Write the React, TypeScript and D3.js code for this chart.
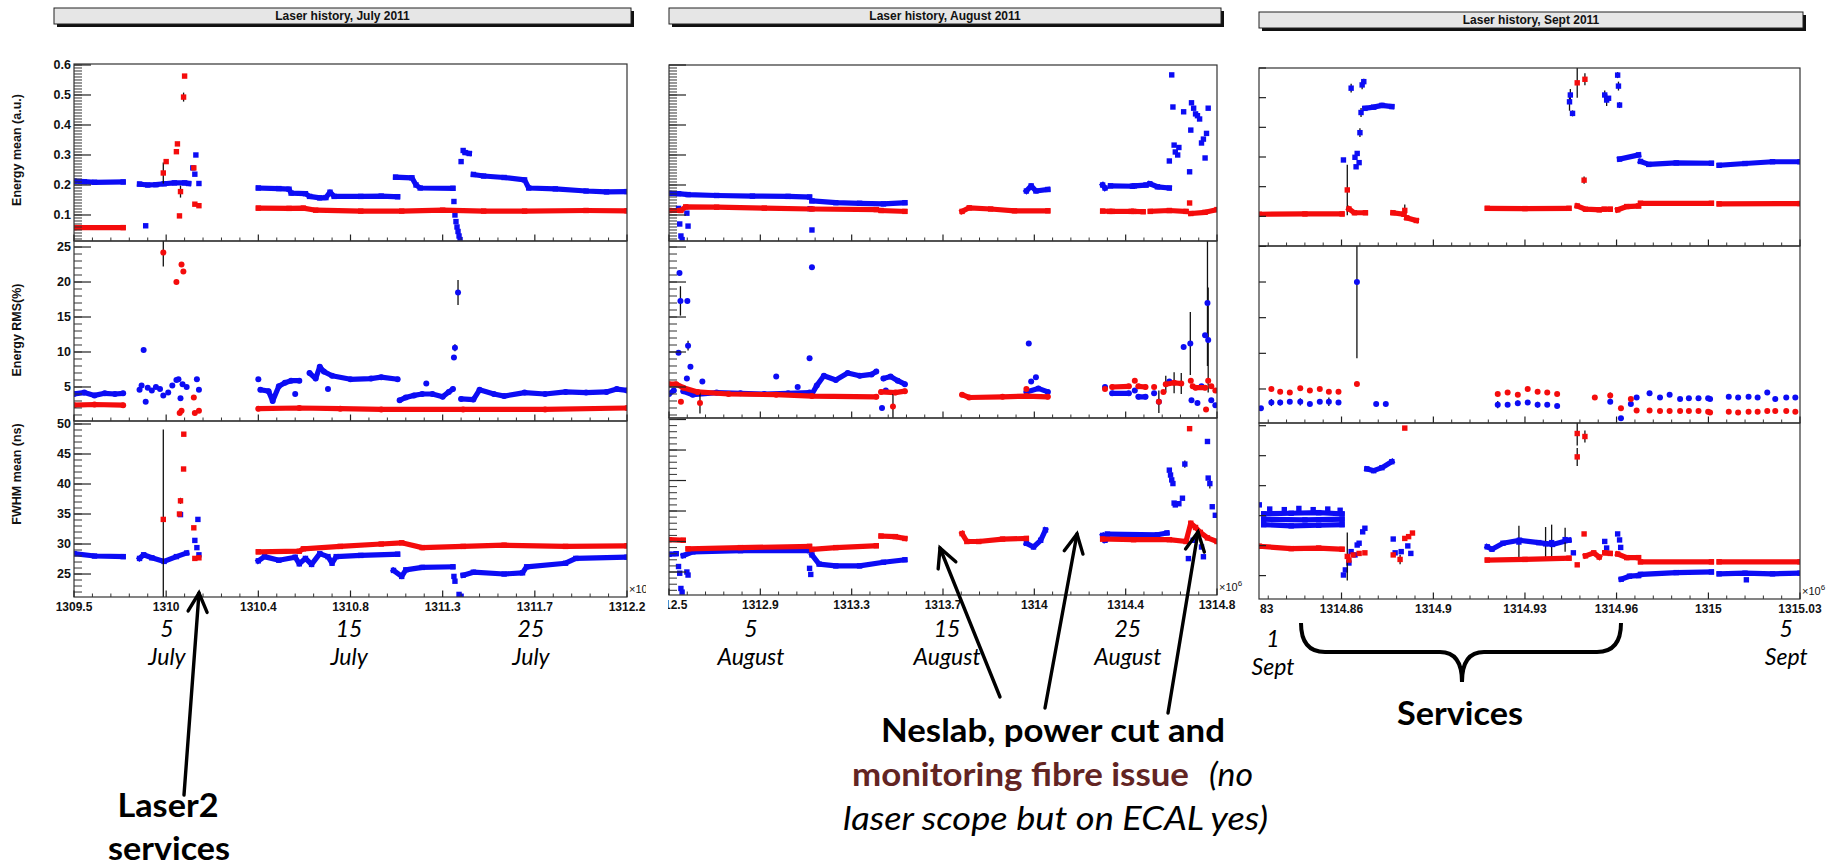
import React from 'react';
import * as d3 from 'd3';

// point: [time (x10^6 s), value, error up?, error down?]
type Pt = [number, number, number?, number?];
type Run = Pt[];

const W = 1841;
const H = 867;

// ---------- x axes ----------
const julyXTicks = [1309.5, 1309.95, 1310.4, 1310.85, 1311.3, 1311.75, 1312.2];
const julyXLabels = ['1309.5', '1310', '1310.4', '1310.8', '1311.3', '1311.7', '1312.2'];
const augXTicks = [1312.5, 1312.8833, 1313.2667, 1313.65, 1314.0333, 1314.4167, 1314.8];
const augXLabels = ['1312.5', '1312.9', '1313.3', '1313.7', '1314', '1314.4', '1314.8'];
const septXTicks = [1314.83, 1314.8633, 1314.8967, 1314.93, 1314.9633, 1314.9967, 1315.03];
const septXLabels = ['1314.83', '1314.86', '1314.9', '1314.93', '1314.96', '1315', '1315.03'];

// ---------- y axes ----------
const energyMajor = [0.1, 0.2, 0.3, 0.4, 0.5, 0.6];
const energyLabels = ['0.1', '0.2', '0.3', '0.4', '0.5', '0.6'];
const rmsMajor = [5, 10, 15, 20, 25];
const rmsLabels = ['5', '10', '15', '20', '25'];
const fwhmMajor = [25, 30, 35, 40, 45, 50];
const fwhmLabels = ['25', '30', '35', '40', '45', '50'];
const yTitles = ['Energy mean (a.u.)', 'Energy RMS(%)', 'FWHM mean (ns)'];

// ---------- date labels ----------
const julyDates = [
  { t: 1309.954, day: '5', month: 'July' },
  { t: 1310.843, day: '15', month: 'July' },
  { t: 1311.731, day: '25', month: 'July' },
];
const augDates = [
  { t: 1312.844, day: '5', month: 'August' },
  { t: 1313.667, day: '15', month: 'August' },
  { t: 1314.426, day: '25', month: 'August' },
];
const septDates = [
  { t: 1314.8384, day: '1', month: 'Sept' },
  { t: 1315.025, day: '5', month: 'Sept' },
];

// ---------- July data ----------
const julyEnergyBlue: Run[] = [
  [[1309.5, 0.213], [1309.55, 0.211], [1309.6, 0.209], [1309.74, 0.21]],
  [[1309.85, 0.064]],
  [[1309.82, 0.203], [1309.86, 0.2], [1309.9, 0.201], [1309.94, 0.204], [1309.99, 0.207], [1310.04, 0.207], [1310.06, 0.205]],
  [[1310.08, 0.257]], [[1310.09, 0.236]], [[1310.095, 0.3]], [[1310.11, 0.205]],
  [[1310.4, 0.19], [1310.5, 0.188], [1310.55, 0.186], [1310.56, 0.173], [1310.63, 0.171], [1310.65, 0.162], [1310.7, 0.157], [1310.73, 0.158], [1310.75, 0.176], [1310.77, 0.162], [1310.9, 0.162], [1311.0, 0.163], [1311.08, 0.161]],
  [[1311.07, 0.226], [1311.15, 0.224], [1311.17, 0.2], [1311.19, 0.19], [1311.35, 0.189]],
  [[1311.355, 0.145]], [[1311.36, 0.1]], [[1311.365, 0.078]], [[1311.37, 0.06]], [[1311.375, 0.045]], [[1311.38, 0.03]], [[1311.385, 0.018]],
  [[1311.39, 0.278]], [[1311.4, 0.315]], [[1311.41, 0.308], [1311.43, 0.305]],
  [[1311.45, 0.235], [1311.5, 0.23], [1311.6, 0.225], [1311.7, 0.217], [1311.72, 0.19], [1311.85, 0.187], [1312.0, 0.18], [1312.1, 0.177], [1312.2, 0.178]],
];
const julyEnergyRed: Run[] = [
  [[1309.5, 0.058], [1309.74, 0.058]],
  [[1309.936, 0.24, 0.035]], [[1309.95, 0.278]], [[1310.0, 0.311]], [[1310.005, 0.337]], [[1310.015, 0.097]], [[1310.02, 0.178, 0.02]],
  [[1310.035, 0.493, 0.015]], [[1310.04, 0.563]], [[1310.085, 0.257]], [[1310.09, 0.136]], [[1310.11, 0.131]],
  [[1310.4, 0.123], [1310.55, 0.122], [1310.62, 0.123], [1310.68, 0.116], [1310.9, 0.113], [1311.1, 0.113], [1311.3, 0.116], [1311.5, 0.113], [1311.7, 0.113], [1312.0, 0.115], [1312.2, 0.114]],
];
const julyRmsBlue: Run[] = [
  [[1309.5, 4.0], [1309.55, 4.2], [1309.6, 3.8], [1309.65, 4.1], [1309.7, 4.0], [1309.74, 4.1]],
  [[1309.82, 4.6]], [[1309.83, 5.2]], [[1309.84, 10.3]], [[1309.85, 2.9]], [[1309.86, 4.9]], [[1309.88, 4.5]], [[1309.9, 5.0]], [[1309.92, 4.7]],
  [[1309.936, 3.8]], [[1309.96, 4.2]], [[1309.98, 5.2]], [[1310.0, 6.0]], [[1310.01, 6.1]], [[1310.02, 3.4]], [[1310.03, 5.4]], [[1310.05, 5.0]], [[1310.1, 6.1]], [[1310.11, 4.6]],
  [[1310.4, 6.1]],
  [[1310.41, 4.6], [1310.45, 4.4], [1310.47, 3.0], [1310.5, 5.1], [1310.53, 5.6], [1310.56, 5.9], [1310.6, 5.9]],
  [[1310.58, 4.0]],
  [[1310.65, 7.0], [1310.68, 6.2], [1310.7, 7.9], [1310.72, 7.2], [1310.76, 6.6], [1310.85, 6.1], [1310.95, 6.2], [1311.0, 6.4], [1311.08, 6.1]],
  [[1310.74, 4.7]],
  [[1311.09, 3.1], [1311.12, 3.5], [1311.16, 3.8], [1311.2, 4.0], [1311.25, 4.0], [1311.3, 3.6], [1311.33, 4.3], [1311.35, 4.7]],
  [[1311.22, 5.5]],
  [[1311.355, 9.2]], [[1311.36, 10.6, 0.5]], [[1311.375, 18.5, 1.8]],
  [[1311.39, 3.3], [1311.45, 3.2], [1311.48, 4.6], [1311.55, 4.0], [1311.6, 3.7], [1311.7, 4.2], [1311.8, 4.0], [1311.9, 4.3], [1312.0, 4.2], [1312.1, 4.3], [1312.15, 4.7], [1312.2, 4.5]],
];
const julyRmsRed: Run[] = [
  [[1309.5, 2.4], [1309.6, 2.5], [1309.74, 2.4]],
  [[1309.936, 24.2, 2.0]], [[1310.0, 20.0]], [[1310.025, 22.5]], [[1310.034, 21.5]], [[1310.016, 1.3]], [[1310.025, 1.6]],
  [[1310.085, 3.5]], [[1310.09, 1.3]], [[1310.11, 1.6]],
  [[1310.4, 1.9], [1310.6, 2.0], [1310.8, 1.9], [1311.0, 1.8], [1311.4, 1.8], [1311.8, 1.8], [1312.2, 2.0]],
];
const julyFwhmBlue: Run[] = [
  [[1309.5, 28.4], [1309.6, 28.0], [1309.74, 27.9]],
  [[1309.82, 27.6], [1309.84, 28.2], [1309.88, 27.7], [1309.94, 27.1], [1310.0, 27.9], [1310.05, 28.5]],
  [[1310.02, 34.9]], [[1310.09, 30.6]], [[1310.1, 29.4]], [[1310.105, 34.1]], [[1310.11, 28.2]],
  [[1310.4, 27.2], [1310.43, 27.9], [1310.5, 27.3], [1310.58, 27.8], [1310.6, 26.7], [1310.63, 27.6], [1310.66, 26.6], [1310.7, 28.4], [1310.74, 27.9], [1310.76, 26.8], [1310.78, 27.9], [1310.9, 28.1], [1311.08, 28.3]],
  [[1311.06, 25.6], [1311.1, 24.6], [1311.12, 25.7], [1311.2, 26.1], [1311.35, 26.2]],
  [[1311.355, 24.6]], [[1311.36, 23.8]], [[1311.38, 21.6]], [[1311.39, 21.3]],
  [[1311.4, 24.8], [1311.45, 25.3], [1311.6, 25.0], [1311.69, 25.2], [1311.71, 26.2], [1311.9, 26.8], [1311.95, 27.6], [1312.2, 27.8]],
];
const julyFwhmRed: Run[] = [
  [[1309.936, 34.1, 15]], [[1310.015, 35.0]], [[1310.02, 37.2, 0.5]], [[1310.035, 42.5]], [[1310.036, 48.3]],
  [[1310.085, 32.7]], [[1310.09, 27.6]], [[1310.11, 27.7]],
  [[1310.4, 28.7], [1310.6, 28.8], [1310.62, 29.2], [1310.8, 29.6], [1311.0, 30.0], [1311.1, 30.2], [1311.2, 29.4], [1311.4, 29.6], [1311.6, 29.8], [1311.9, 29.6], [1312.2, 29.7]],
];

// ---------- August data ----------
const augEnergyBlue: Run[] = [
  [[1312.5, 0.172], [1312.54, 0.171], [1312.58, 0.168], [1312.7, 0.165], [1312.85, 0.163], [1313.0, 0.162], [1313.09, 0.16]],
  [[1312.54, 0.122]], [[1312.545, 0.07]], [[1312.55, 0.03]], [[1312.555, 0.018]], [[1312.575, 0.106]], [[1312.58, 0.063]],
  [[1313.092, 0.121]], [[1313.1, 0.05]],
  [[1313.1, 0.147], [1313.2, 0.141], [1313.3, 0.139], [1313.4, 0.137], [1313.49, 0.141]],
  [[1314.0, 0.18], [1314.02, 0.197], [1314.04, 0.18], [1314.09, 0.185]],
  [[1314.32, 0.2], [1314.33, 0.19]], [[1314.353, 0.197], [1314.445, 0.196]], [[1314.453, 0.197], [1314.502, 0.2]], [[1314.518, 0.204], [1314.55, 0.194], [1314.6, 0.19]],
  [[1314.6, 0.28]], [[1314.61, 0.567]], [[1314.615, 0.46]], [[1314.62, 0.333]], [[1314.625, 0.31]], [[1314.635, 0.3]], [[1314.64, 0.325]],
  [[1314.66, 0.444]], [[1314.685, 0.244]], [[1314.69, 0.383]], [[1314.693, 0.474]], [[1314.702, 0.456]], [[1314.71, 0.437]], [[1314.718, 0.431]],
  [[1314.727, 0.42]], [[1314.735, 0.34]], [[1314.743, 0.353]], [[1314.75, 0.29]], [[1314.756, 0.372]], [[1314.763, 0.456]],
];
const augEnergyRed: Run[] = [
  [[1312.5, 0.115], [1312.55, 0.115], [1312.57, 0.127], [1312.7, 0.126], [1312.9, 0.123], [1313.1, 0.12], [1313.37, 0.118]],
  [[1313.39, 0.115], [1313.49, 0.112]],
  [[1313.73, 0.112], [1313.76, 0.124], [1313.85, 0.12], [1313.95, 0.114], [1314.09, 0.114]],
  [[1314.32, 0.113], [1314.35, 0.112]], [[1314.36, 0.112], [1314.44, 0.112]], [[1314.45, 0.112], [1314.49, 0.111]], [[1314.52, 0.112], [1314.6, 0.115], [1314.67, 0.112]],
  [[1314.685, 0.14]],
  [[1314.69, 0.105], [1314.75, 0.109], [1314.8, 0.118]],
];
const augRmsBlue: Run[] = [
  [[1312.5, 4.0], [1312.52, 4.5]],
  [[1312.54, 9.9]], [[1312.544, 21.3]], [[1312.548, 17.3, 2.1]], [[1312.577, 17.3]], [[1312.58, 10.9, 0.7]], [[1312.59, 7.9]], [[1312.575, 6.2]],
  [[1312.56, 4.4], [1312.6, 3.9], [1312.7, 4.2], [1312.8, 4.1], [1312.9, 4.0], [1313.0, 4.1], [1313.09, 4.2]],
  [[1312.64, 5.8]], [[1312.95, 6.5]], [[1313.04, 5.0]],
  [[1313.09, 9.1]], [[1313.1, 22.1]],
  [[1313.1, 4.0], [1313.12, 5.2], [1313.15, 6.6], [1313.2, 6.0], [1313.25, 7.0], [1313.3, 6.6], [1313.35, 6.8], [1313.37, 7.2]],
  [[1313.394, 2.0]],
  [[1313.4, 6.2], [1313.43, 6.5], [1313.46, 5.9], [1313.49, 5.4]],
  [[1313.41, 4.5]],
  [[1314.01, 11.2]], [[1314.02, 5.8]], [[1314.04, 6.4]],
  [[1314.0, 4.3], [1314.05, 4.8], [1314.09, 4.3]],
  [[1314.33, 5.0]], [[1314.36, 4.1], [1314.43, 4.1]], [[1314.455, 4.5]], [[1314.47, 3.6], [1314.5, 3.6]], [[1314.536, 4.1]],
  [[1314.556, 2.9]], [[1314.6, 5.8]],
  [[1314.66, 10.7]], [[1314.688, 11.2, 4.5]], [[1314.693, 3.1]], [[1314.718, 2.7]], [[1314.735, 5.1]], [[1314.75, 12.4]],
  [[1314.76, 17.0, 9]], [[1314.763, 11.7, 7.5]], [[1314.776, 3.1]], [[1314.793, 2.4]],
];
const augRmsRed: Run[] = [
  [[1312.5, 5.4], [1312.53, 5.4], [1312.56, 4.9], [1312.62, 4.3], [1312.75, 4.0], [1312.95, 3.9], [1313.1, 3.7], [1313.37, 3.6]],
  [[1312.55, 2.9]], [[1312.63, 2.7, 1.5]],
  [[1313.39, 4.3], [1313.45, 4.2], [1313.49, 4.4]],
  [[1313.44, 2.2, 1.8]],
  [[1313.73, 3.9], [1313.76, 3.5], [1313.9, 3.6], [1314.0, 3.7], [1314.09, 3.6]],
  [[1314.0, 4.7]],
  [[1314.33, 4.7]], [[1314.36, 5.0], [1314.43, 5.1]], [[1314.455, 5.9]], [[1314.47, 5.1], [1314.5, 5.0]], [[1314.536, 5.0]],
  [[1314.556, 2.9, 1.6]], [[1314.575, 4.3]], [[1314.585, 5.4, 1.2], [1314.62, 5.6, 1.5], [1314.65, 5.5, 1.5]],
  [[1314.69, 5.9]], [[1314.698, 5.1]], [[1314.71, 4.9], [1314.75, 4.9]], [[1314.754, 1.8]], [[1314.763, 5.9]], [[1314.776, 5.1]], [[1314.793, 4.5]],
];
const augFwhmBlue: Run[] = [
  [[1312.5, 27.9], [1312.53, 28.0]],
  [[1312.54, 25.9]], [[1312.545, 24.8]], [[1312.55, 22.3]], [[1312.555, 21.7]], [[1312.575, 25.0]], [[1312.58, 24.5]],
  [[1312.56, 27.7], [1312.6, 28.3], [1312.8, 28.5], [1313.09, 28.5]],
  [[1313.09, 25.6]], [[1313.095, 24.6]],
  [[1313.1, 27.8], [1313.13, 26.3], [1313.2, 26.0], [1313.3, 26.0], [1313.4, 26.6], [1313.49, 27.0]],
  [[1314.0, 29.7], [1314.03, 29.1], [1314.06, 30.2], [1314.08, 31.9]],
  [[1314.32, 31.0], [1314.33, 30.2]], [[1314.34, 31.2], [1314.55, 31.1], [1314.59, 31.4]],
  [[1314.6, 41.7]], [[1314.605, 40.9]], [[1314.61, 40.1]], [[1314.615, 39.5]], [[1314.62, 36.3]], [[1314.625, 36.0]], [[1314.64, 36.2]],
  [[1314.655, 37.1]], [[1314.665, 42.7, 0.6]], [[1314.68, 27.2]], [[1314.7, 30.2]], [[1314.735, 29.1]], [[1314.743, 27.5]],
  [[1314.76, 46.4]], [[1314.763, 40.4]], [[1314.77, 39.5, 0.8]], [[1314.78, 35.7]], [[1314.793, 34.3]],
];
const augFwhmRed: Run[] = [
  [[1312.5, 30.3], [1312.56, 30.2]],
  [[1312.58, 28.8], [1312.8, 29.0], [1313.09, 29.2]],
  [[1313.1, 28.7], [1313.2, 29.0], [1313.37, 29.3]],
  [[1313.39, 30.9], [1313.45, 30.8], [1313.49, 30.5]],
  [[1313.73, 31.3], [1313.75, 30.0], [1313.8, 30.0], [1313.9, 30.4], [1314.0, 30.5]],
  [[1314.32, 30.4], [1314.45, 30.3], [1314.6, 30.3], [1314.67, 30.0], [1314.69, 33.0], [1314.71, 32.3], [1314.73, 31.5], [1314.76, 30.6], [1314.8, 30.0]],
  [[1314.685, 48.5]],
];

// ---------- September data ----------
const septEnergyBlue: Run[] = [
  [[1314.864, 0.29]], [[1314.8668, 0.532, 0.015]], [[1314.8682, 0.299]], [[1314.8686, 0.267]], [[1314.869, 0.312]], [[1314.8697, 0.281]],
  [[1314.87, 0.382, 0.015]], [[1314.8704, 0.45, 0.015]], [[1314.8708, 0.543, 0.015]], [[1314.8714, 0.554, 0.01]],
  [[1314.8718, 0.464], [1314.875, 0.468], [1314.878, 0.474], [1314.8816, 0.47]],
  [[1314.9462, 0.486, 0.03]], [[1314.9465, 0.509, 0.02]], [[1314.9473, 0.447, 0.01]], [[1314.959, 0.509, 0.015]], [[1314.9597, 0.492, 0.02]],
  [[1314.9604, 0.498]], [[1314.9637, 0.576, 0.01]], [[1314.964, 0.539, 0.015]], [[1314.9644, 0.475, 0.01]],
  [[1314.9644, 0.293], [1314.9713, 0.307]],
  [[1314.972, 0.285], [1314.975, 0.275], [1314.985, 0.28], [1314.9978, 0.279]],
  [[1315.0006, 0.272], [1315.01, 0.278], [1315.02, 0.284], [1315.03, 0.284]],
];
const septEnergyRed: Run[] = [
  [[1314.8334, 0.107], [1314.85, 0.108], [1314.8635, 0.108]],
  [[1314.8654, 0.189, 0.085]],
  [[1314.866, 0.125], [1314.868, 0.112], [1314.872, 0.112]],
  [[1314.882, 0.112], [1314.886, 0.107]],
  [[1314.8863, 0.12, 0.02]],
  [[1314.887, 0.095], [1314.8905, 0.086]],
  [[1314.9163, 0.127], [1314.93, 0.126], [1314.946, 0.127]],
  [[1314.949, 0.55, 0.05]], [[1314.9518, 0.562, 0.02]], [[1314.9515, 0.222, 0.012]],
  [[1314.949, 0.135], [1314.952, 0.124], [1314.957, 0.122]],
  [[1314.9588, 0.124], [1314.961, 0.124]],
  [[1314.9637, 0.122], [1314.967, 0.133], [1314.9713, 0.135]],
  [[1314.972, 0.144], [1314.9978, 0.144]],
  [[1315.0006, 0.142], [1315.03, 0.143]],
];
const septRmsBlue: Run[] = [
  [[1314.834, 2.3]], [[1314.8378, 3.1, 0.5]], [[1314.841, 3.1, 0.4]], [[1314.8445, 3.2, 0.3]], [[1314.8483, 3.2, 0.5]], [[1314.8518, 2.9, 0.3]],
  [[1314.8554, 3.2, 0.3]], [[1314.8587, 3.2, 0.6]], [[1314.8622, 3.1, 0.3]], [[1314.8689, 20.0, 6, 10.7]], [[1314.8759, 2.9]], [[1314.8794, 2.9]],
  [[1314.9201, 2.8, 0.5]], [[1314.9237, 2.8, 0.3]], [[1314.9274, 3.0, 0.4]], [[1314.931, 3.1]], [[1314.9346, 2.8, 0.4]], [[1314.9381, 2.8, 0.3]],
  [[1314.9417, 2.6, 0.3]], [[1314.961, 3.2, 0.3]], [[1314.9649, 0.9]], [[1314.9685, 2.9, 0.3]], [[1314.9706, 3.8]], [[1314.9753, 4.4]],
  [[1314.9791, 3.8]], [[1314.9826, 4.2]], [[1314.9864, 3.6]], [[1314.9896, 3.7]], [[1314.9931, 3.7]], [[1314.9966, 3.7]], [[1314.9973, 3.6]],
  [[1315.0041, 3.9]], [[1315.0075, 3.8]], [[1315.0113, 3.9]], [[1315.0146, 3.8]], [[1315.0181, 4.5]], [[1315.021, 3.6]], [[1315.025, 3.8]], [[1315.0283, 3.8]],
];
const septRmsRed: Run[] = [
  [[1314.8378, 5.0]], [[1314.841, 4.6]], [[1314.8445, 4.5]], [[1314.8483, 5.1]], [[1314.8518, 4.8]], [[1314.8554, 5.0]], [[1314.8587, 4.6]],
  [[1314.8622, 4.6]], [[1314.8689, 5.7]], [[1314.9201, 4.3]], [[1314.9237, 4.5]], [[1314.9274, 4.2]], [[1314.931, 5.0]], [[1314.9346, 4.6]],
  [[1314.9381, 4.5]], [[1314.9417, 4.3]], [[1314.9554, 3.8]], [[1314.961, 4.1, 0.4]], [[1314.9649, 2.3]], [[1314.9685, 3.6]], [[1314.9706, 2.0]],
  [[1314.9753, 2.0]], [[1314.9791, 1.9]], [[1314.9826, 1.9]], [[1314.9864, 1.9]], [[1314.9896, 1.9]], [[1314.9931, 1.9]], [[1314.9966, 1.8]],
  [[1314.9973, 1.7]], [[1315.0041, 1.8]], [[1315.0075, 1.7]], [[1315.0113, 1.8]], [[1315.0146, 1.8]], [[1315.0181, 1.9]], [[1315.021, 1.9]],
  [[1315.025, 1.9]], [[1315.0283, 1.8]],
];
const septFwhmBlue: Run[] = [
  [[1314.8334, 36.8]], [[1314.8372, 36.1]], [[1314.8425, 36.0]], [[1314.8478, 36.2]], [[1314.853, 36.0]], [[1314.8583, 36.1]], [[1314.8628, 35.9]],
  [[1314.835, 35.3], [1314.845, 35.4], [1314.855, 35.5], [1314.8635, 35.3]],
  [[1314.835, 34.4], [1314.85, 34.3], [1314.8635, 34.4]],
  [[1314.835, 33.5], [1314.845, 33.3], [1314.855, 33.4], [1314.8635, 33.5]],
  [[1314.864, 25.1]], [[1314.8647, 25.95]], [[1314.866, 27.1]], [[1314.8668, 29.0]], [[1314.8682, 28.45]], [[1314.869, 30.1]], [[1314.8697, 30.4]],
  [[1314.871, 32.3]], [[1314.8718, 32.9]],
  [[1314.8725, 42.8], [1314.875, 42.5], [1314.878, 43.0], [1314.8816, 44.0]],
  [[1314.8821, 31.1]], [[1314.8828, 28.8]], [[1314.885, 29.0]], [[1314.8874, 29.95]], [[1314.8885, 28.7]],
  [[1314.9163, 29.8], [1314.918, 29.4], [1314.922, 30.4], [1314.928, 30.9], [1314.935, 30.5], [1314.94, 30.2], [1314.946, 30.9]],
  [[1314.9278, 30.6, 2.7]], [[1314.9375, 30.3, 2.8]], [[1314.9397, 30.5, 3]], [[1314.9446, 31.0, 2]],
  [[1314.9476, 28.8]], [[1314.959, 30.7]], [[1314.9597, 29.6]], [[1314.9637, 31.95]], [[1314.9644, 30.95]], [[1314.9648, 29.7]],
  [[1314.965, 24.4], [1314.968, 24.9], [1314.9713, 25.0]],
  [[1314.972, 25.2], [1314.985, 25.5], [1314.9978, 25.6]],
  [[1315.0006, 25.3], [1315.01, 25.4], [1315.02, 25.3], [1315.03, 25.4]],
  [[1315.0105, 24.3]],
];
const septFwhmRed: Run[] = [
  [[1314.8334, 29.9], [1314.845, 29.5], [1314.855, 29.6], [1314.8635, 29.4]],
  [[1314.8654, 28.2, 4]], [[1314.866, 27.6]], [[1314.8675, 28.45]], [[1314.8697, 28.7]], [[1314.8718, 28.8]],
  [[1314.8863, 49.6]], [[1314.8821, 28.45]], [[1314.8846, 27.7, 0.8]], [[1314.8863, 31.2]], [[1314.8877, 31.5]], [[1314.8891, 32.1]],
  [[1314.9163, 27.6], [1314.93, 27.7], [1314.946, 27.9]],
  [[1314.949, 48.7, 2]], [[1314.9518, 48.2, 1]], [[1314.949, 44.8, 1.5]],
  [[1314.949, 26.8]], [[1314.9515, 31.95]],
  [[1314.952, 28.3], [1314.955, 28.8], [1314.957, 28.1]],
  [[1314.959, 28.8], [1314.961, 28.7]],
  [[1314.9637, 28.6], [1314.967, 28.0], [1314.9713, 28.0]],
  [[1314.972, 27.3], [1314.9978, 27.3]],
  [[1315.0006, 27.3], [1315.03, 27.3]],
];

// ---------- styling ----------
const BLUE = '#0c0cf4';
const RED = '#f40c0c';
const ROOT_FONT = '"Liberation Sans", Arial, Helvetica, sans-serif';
const SLIDE_FONT = 'Lato, "Open Sans", sans-serif';

type Row = {
  domain: [number, number];
  major: number[];
  labels: string[];
  minor: number;
  marker: 'sq' | 'dot';
  blue: Run[];
  red: Run[];
};

type Panel = {
  id: string;
  title: string;
  box: [number, number, number, number];
  clip: [number, number];
  left: number;
  right: number;
  edges: number[];
  xDomain: [number, number];
  xTicks: number[];
  xLabels: string[];
  rows: Row[];
  yLabels: boolean;
  yMajorLen: number;
  yMinorLen: number;
  dates: { t: number; day: string; month: string }[];
  dateDrop?: number[];
};

const panels: Panel[] = [
  {
    id: 'jul', title: 'Laser history, July 2011', box: [54, 8, 631, 24], clip: [0, 646],
    left: 74, right: 627, edges: [64, 241, 421, 597],
    xDomain: [1309.5, 1312.2], xTicks: julyXTicks, xLabels: julyXLabels,
    yLabels: true, yMajorLen: 17, yMinorLen: 8, dates: julyDates,
    rows: [
      { domain: [0.0133, 0.6033], major: energyMajor, labels: energyLabels, minor: 0.01, marker: 'sq', blue: julyEnergyBlue, red: julyEnergyRed },
      { domain: [0.14, 25.86], major: rmsMajor, labels: rmsLabels, minor: 1, marker: 'dot', blue: julyRmsBlue, red: julyRmsRed },
      { domain: [21.17, 50.5], major: fwhmMajor, labels: fwhmLabels, minor: 1, marker: 'sq', blue: julyFwhmBlue, red: julyFwhmRed },
    ],
  },
  {
    id: 'aug', title: 'Laser history, August 2011', box: [669, 8, 1221, 24], clip: [668, 1258],
    left: 669, right: 1217, edges: [65, 241, 418, 595],
    xDomain: [1312.5, 1314.8], xTicks: augXTicks, xLabels: augXLabels,
    yLabels: false, yMajorLen: 17, yMinorLen: 8, dates: augDates,
    rows: [
      { domain: [0.0133, 0.6], major: energyMajor, labels: energyLabels, minor: 0.01, marker: 'sq', blue: augEnergyBlue, red: augEnergyRed },
      { domain: [0.57, 25.86], major: rmsMajor, labels: rmsLabels, minor: 1, marker: 'dot', blue: augRmsBlue, red: augRmsRed },
      { domain: [21.23, 50.25], major: fwhmMajor, labels: fwhmLabels, minor: 1, marker: 'sq', blue: augFwhmBlue, red: augFwhmRed },
    ],
  },
  {
    id: 'sep', title: 'Laser history, Sept 2011', box: [1259, 12, 1803, 28], clip: [1258, W],
    left: 1259, right: 1800, edges: [68, 246, 423, 599],
    xDomain: [1314.8333, 1315.03], xTicks: septXTicks, xLabels: septXLabels,
    yLabels: false, yMajorLen: 7, yMinorLen: 0, dates: septDates, dateDrop: [10, 0],
    rows: [
      { domain: [0, 0.6], major: energyMajor, labels: energyLabels, minor: 0, marker: 'sq', blue: septEnergyBlue, red: septEnergyRed },
      { domain: [0.23, 25.05], major: rmsMajor, labels: rmsLabels, minor: 0, marker: 'dot', blue: septRmsBlue, red: septRmsRed },
      { domain: [21.1, 50.45], major: fwhmMajor, labels: fwhmLabels, minor: 0, marker: 'sq', blue: septFwhmBlue, red: septFwhmRed },
    ],
  },
];

const yTitleCenters = [150, 330, 474];

function RowView({ p, row, i, x }: { p: Panel; row: Row; i: number; x: d3.ScaleLinear<number, number> }) {
  const top = p.edges[i];
  const bottom = p.edges[i + 1];
  const y = d3.scaleLinear().domain(row.domain).range([bottom, top]);
  const inY = (v: number) => v >= row.domain[0] - 1e-9 && v <= row.domain[1] + 1e-9;
  const inX = (v: number) => v >= p.xDomain[0] - 1e-9 && v <= p.xDomain[1] + 1e-9;
  const cid = `clip-${p.id}-${i}`;
  const line = d3.line<Pt>().x(d => x(d[0])).y(d => y(d[1]));
  const yMinor = row.minor > 0
    ? d3.range(Math.ceil(row.domain[0] / row.minor) * row.minor, row.domain[1], row.minor)
    : [];
  const xMinor: number[] = [];
  for (let k = 0; k < p.xTicks.length - 1; k++) {
    const a = p.xTicks[k];
    const b = p.xTicks[k + 1];
    for (let s = 1; s < 5; s++) xMinor.push(a + ((b - a) * s) / 5);
  }

  const series = (runs: Run[], color: string, key: string) => {
    const pts = runs.flat();
    return (
      <g key={key}>
        {runs.filter(r => r.length > 1).map((r, j) => (
          <path key={j} d={line(r) || ''} fill="none" stroke={color} strokeWidth={5.2}
            strokeLinejoin="round" strokeLinecap={row.marker === 'dot' ? 'round' : 'square'} />
        ))}
        {pts.filter(d => d[2] !== undefined).map((d, j) => (
          <line key={'e' + j} x1={x(d[0])} x2={x(d[0])} y1={y(d[1] + (d[2] as number))}
            y2={y(d[1] - (d[3] ?? (d[2] as number)))} stroke="#111" strokeWidth={1.3} />
        ))}
        {pts.map((d, j) => row.marker === 'sq'
          ? <rect key={'m' + j} x={x(d[0]) - 2.7} y={y(d[1]) - 2.7} width={5.4} height={5.4} fill={color} />
          : <circle key={'m' + j} cx={x(d[0])} cy={y(d[1])} r={3} fill={color} />)}
      </g>
    );
  };

  return (
    <g>
      <defs>
        <clipPath id={cid}>
          <rect x={p.left} y={top} width={p.right - p.left} height={bottom - top} />
        </clipPath>
      </defs>
      <g clipPath={`url(#${cid})`}>
        {series(row.blue, BLUE, 'b')}
        {series(row.red, RED, 'r')}
      </g>
      <rect x={p.left} y={top} width={p.right - p.left} height={bottom - top} fill="none" stroke="#333" strokeWidth={1.2} />
      {row.major.filter(inY).map(v => (
        <line key={'ym' + v} x1={p.left} x2={p.left + p.yMajorLen} y1={y(v)} y2={y(v)} stroke="#222" strokeWidth={1.2} />
      ))}
      {p.yMinorLen > 0 && yMinor.map((v, j) => (
        <line key={'yn' + j} x1={p.left} x2={p.left + p.yMinorLen} y1={y(v)} y2={y(v)} stroke="#333" strokeWidth={1} />
      ))}
      {p.xTicks.filter(inX).map(v => (
        <line key={'xm' + v} x1={x(v)} x2={x(v)} y1={bottom} y2={bottom - 6.5} stroke="#222" strokeWidth={1.2} />
      ))}
      {xMinor.filter(inX).map((v, j) => (
        <line key={'xn' + j} x1={x(v)} x2={x(v)} y1={bottom} y2={bottom - 3.5} stroke="#333" strokeWidth={1} />
      ))}
      {p.yLabels && row.major.filter(inY).map((v, j) => (
        <text key={'yl' + v} x={p.left - 3} y={y(v)} dy="0.35em" textAnchor="end"
          fontFamily={ROOT_FONT} fontWeight="bold" fontSize={12.5} fill="#111">
          {row.labels[row.major.indexOf(v)] ?? j}
        </text>
      ))}
      {p.yLabels && (
        <text transform={`translate(17,${yTitleCenters[i]}) rotate(-90)`} textAnchor="middle" dy="0.35em"
          fontFamily={ROOT_FONT} fontWeight="bold" fontSize={12.5} fill="#111">
          {yTitles[i]}
        </text>
      )}
    </g>
  );
}

function PanelView({ p }: { p: Panel }) {
  const x = d3.scaleLinear().domain(p.xDomain).range([p.left, p.right]);
  const bottom = p.edges[3];
  const [bx0, by0, bx1, by1] = p.box;
  const cid = `pclip-${p.id}`;
  return (
    <g>
      <defs>
        <clipPath id={cid}>
          <rect x={p.clip[0]} y={0} width={p.clip[1] - p.clip[0]} height={H} />
        </clipPath>
      </defs>
      <g clipPath={`url(#${cid})`}>
        <rect x={p.clip[0]} y={0} width={p.clip[1] - p.clip[0]} height={H} fill="#fff" />
        <rect x={bx0 + 3} y={by0 + 3} width={bx1 - bx0} height={by1 - by0} fill="#111" />
        <rect x={bx0} y={by0} width={bx1 - bx0} height={by1 - by0} fill="#e6e6e6" stroke="#222" strokeWidth={1} />
        <text x={(bx0 + bx1) / 2} y={(by0 + by1) / 2} dy="0.36em" textAnchor="middle"
          fontFamily={ROOT_FONT} fontWeight="bold" fontSize={12} fill="#111">{p.title}</text>
        {p.rows.map((row, i) => <RowView key={i} p={p} row={row} i={i} x={x} />)}
        {p.xTicks.map((v, j) => {
          // a tick that sits left of the frame only shows its clipped tail
          const outside = v < p.xDomain[0] - 1e-9;
          return (
            <text key={'xl' + j} x={outside ? p.left + 1 : x(v)} y={bottom + 14} textAnchor={outside ? 'start' : 'middle'}
              fontFamily={ROOT_FONT} fontWeight="bold" fontSize={12} fill="#111">
              {outside ? p.xLabels[j].slice(-2) : p.xLabels[j]}
            </text>
          );
        })}
        <text x={p.right + 2} y={bottom - 4} fontFamily={ROOT_FONT} fontSize={11} fill="#111">
          ×10<tspan dy={-5} fontSize={8}>6</tspan>
        </text>
      </g>
      {p.dates.map((d, j) => {
        const drop = p.dateDrop ? p.dateDrop[j] : 0;
        return (
          <g key={'d' + j} fontFamily={SLIDE_FONT} fontStyle="italic" fontSize={23} fill="#000" textAnchor="middle">
            <text x={x(d.t)} y={637 + drop}>{d.day}</text>
            <text x={x(d.t)} y={665 + drop}>{d.month}</text>
          </g>
        );
      })}
    </g>
  );
}

// slide annotations (pixel positions on the slide)
const arrows: [number, number, number, number][] = [
  [184, 795, 199, 593],
  [1000, 697, 940, 548],
  [1045, 708, 1077, 534],
  [1168, 713, 1198, 532],
];

function Arrow({ a }: { a: [number, number, number, number] }) {
  const [x0, y0, x1, y1] = a;
  const ang = Math.atan2(y1 - y0, x1 - x0);
  const len = 21;
  const spread = 0.47;
  const h1 = [x1 - len * Math.cos(ang - spread), y1 - len * Math.sin(ang - spread)];
  const h2 = [x1 - len * Math.cos(ang + spread), y1 - len * Math.sin(ang + spread)];
  return (
    <g stroke="#000" strokeWidth={3.4} fill="none" strokeLinecap="round" strokeLinejoin="miter">
      <line x1={x0} y1={y0} x2={x1} y2={y1} />
      <polyline points={`${h1[0]},${h1[1]} ${x1},${y1} ${h2[0]},${h2[1]}`} />
    </g>
  );
}

export default function App() {
  return (
    <svg width={W} height={H} style={{ position: 'absolute', left: 0, top: 0, background: '#fff' }}>
      <rect x={0} y={0} width={W} height={H} fill="#fff" />
      {panels.map(p => <PanelView key={p.id} p={p} />)}

      {arrows.map((a, i) => <Arrow key={i} a={a} />)}

      <path d="M1301,623 Q1301,652 1325,652 L1440,652 Q1462,652 1462,682 Q1462,652 1484,652 L1597,652 Q1621,652 1621,623"
        fill="none" stroke="#000" strokeWidth={4} />

      <g fontFamily={SLIDE_FONT} fill="#000">
        <text x={1460} y={725} textAnchor="middle" fontWeight="bold" fontSize={32} textLength={126} lengthAdjust="spacingAndGlyphs">Services</text>
        <text x={168} y={817} textAnchor="middle" fontWeight="bold" fontSize={32} textLength={101} lengthAdjust="spacingAndGlyphs">Laser2</text>
        <text x={169} y={860} textAnchor="middle" fontWeight="bold" fontSize={32} textLength={122} lengthAdjust="spacingAndGlyphs">services</text>
        <text x={881} y={742} fontWeight="bold" fontSize={32} textLength={344} lengthAdjust="spacingAndGlyphs">Neslab, power cut and</text>
        <text x={852} y={786} fontWeight="bold" fontSize={32} fill="#632523" textLength={337} lengthAdjust="spacingAndGlyphs">monitoring fibre issue</text>
        <text x={1209} y={786} fontStyle="italic" fontSize={32} textLength={44} lengthAdjust="spacingAndGlyphs">(no</text>
        <text x={843} y={830} fontStyle="italic" fontSize={32} textLength={425} lengthAdjust="spacingAndGlyphs">laser scope but on ECAL yes)</text>
      </g>
    </svg>
  );
}
